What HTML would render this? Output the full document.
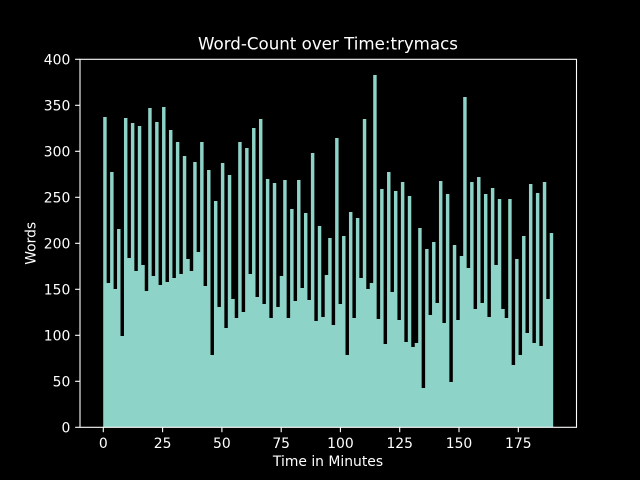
<!DOCTYPE html>
<html>
<head>
<meta charset="utf-8">
<style>
html,body{margin:0;padding:0;background:#000;}
svg{display:block;}
text{font-family:"DejaVu Sans","Liberation Sans",sans-serif;fill:#fff;}
</style>
</head>
<body>
<svg width="640" height="480" viewBox="0 0 640 480" xmlns="http://www.w3.org/2000/svg">
<rect x="0" y="0" width="640" height="480" fill="#000"/>
<g transform="translate(103.2,0) scale(3.4615,1)">
<path fill="#8dd3c7" d="M0 427.3V117H1V283H2V172H3V289H4V229H5V336H6V118H7V258H8V123H9V271H10V126H11V265H12V291H13V108H14V276H15V122H16V285H17V107H18V282H19V130H20V278H21V142H22V274H23V156H24V259H25V271H26V162H27V252H28V142H29V286H30V170H31V355H32V201H33V307H34V163H35V328H36V175H37V299H38V318H39V142H40V312H41V148H42V274H43V128H44V297H45V119H46V304H47V179H48V318H49V183H50V307H51V276H52V180H53V318H54V209H55V301H56V180H57V288H58V213H59V300H60V153H61V321H62V226H63V317H64V275H65V238H66V325H67V138H68V304H69V236H70V355H71V212H72V318H73V218H74V278H75V119H76V289H77V283H78V75H79V319H80V189H81V344H82V172H83V292H84V191H85V320H86V182H87V342H88V196H89V347H90V343H91V228H92V388H93V249H94V315H95V242H96V303H97V181H98V323H99V194H100V382H101V245H102V320H103V256H104V97H105V268H106V182H107V309H108V177H109V303H110V194H111V317H112V188H113V265H114V199H115V309H116V318H117V199H118V365H119V259H120V355H121V236H122V333H123V184H124V343H125V193H126V346H127V182H128V299H129V233H130V427.3Z"/>
</g>
<!-- spines -->
<rect x="80" y="59.3" width="496.5" height="368" fill="none" stroke="#fff" stroke-width="1.1"/>
<!-- x ticks -->
<g stroke="#fff" stroke-width="1.1">
<line x1="103.3" y1="427.3" x2="103.3" y2="432.2"/>
<line x1="162.6" y1="427.3" x2="162.6" y2="432.2"/>
<line x1="221.9" y1="427.3" x2="221.9" y2="432.2"/>
<line x1="281.2" y1="427.3" x2="281.2" y2="432.2"/>
<line x1="340.4" y1="427.3" x2="340.4" y2="432.2"/>
<line x1="399.7" y1="427.3" x2="399.7" y2="432.2"/>
<line x1="459.0" y1="427.3" x2="459.0" y2="432.2"/>
<line x1="518.3" y1="427.3" x2="518.3" y2="432.2"/>
<!-- y ticks -->
<line x1="75.1" y1="427.3" x2="80" y2="427.3"/>
<line x1="75.1" y1="381.3" x2="80" y2="381.3"/>
<line x1="75.1" y1="335.3" x2="80" y2="335.3"/>
<line x1="75.1" y1="289.3" x2="80" y2="289.3"/>
<line x1="75.1" y1="243.3" x2="80" y2="243.3"/>
<line x1="75.1" y1="197.3" x2="80" y2="197.3"/>
<line x1="75.1" y1="151.3" x2="80" y2="151.3"/>
<line x1="75.1" y1="105.3" x2="80" y2="105.3"/>
<line x1="75.1" y1="59.3" x2="80" y2="59.3"/>
</g>
<g font-size="13.9" text-anchor="middle">
<text x="103.3" y="448">0</text>
<text x="162.6" y="448">25</text>
<text x="221.9" y="448">50</text>
<text x="281.2" y="448">75</text>
<text x="340.4" y="448">100</text>
<text x="399.7" y="448">125</text>
<text x="459.0" y="448">150</text>
<text x="518.3" y="448">175</text>
</g>
<g font-size="13.9" text-anchor="end">
<text x="70.3" y="432.3">0</text>
<text x="70.3" y="386.3">50</text>
<text x="70.3" y="340.3">100</text>
<text x="70.3" y="294.3">150</text>
<text x="70.3" y="248.3">200</text>
<text x="70.3" y="202.3">250</text>
<text x="70.3" y="156.3">300</text>
<text x="70.3" y="110.3">350</text>
<text x="70.3" y="64.3">400</text>
</g>
<text x="328" y="466" font-size="13.9" text-anchor="middle">Time in Minutes</text>
<text transform="translate(35.5,243.3) rotate(-90)" font-size="13.9" text-anchor="middle">Words</text>
<text x="328" y="49.5" font-size="16.67" text-anchor="middle">Word-Count over Time:trymacs</text>
</svg>
</body>
</html>
